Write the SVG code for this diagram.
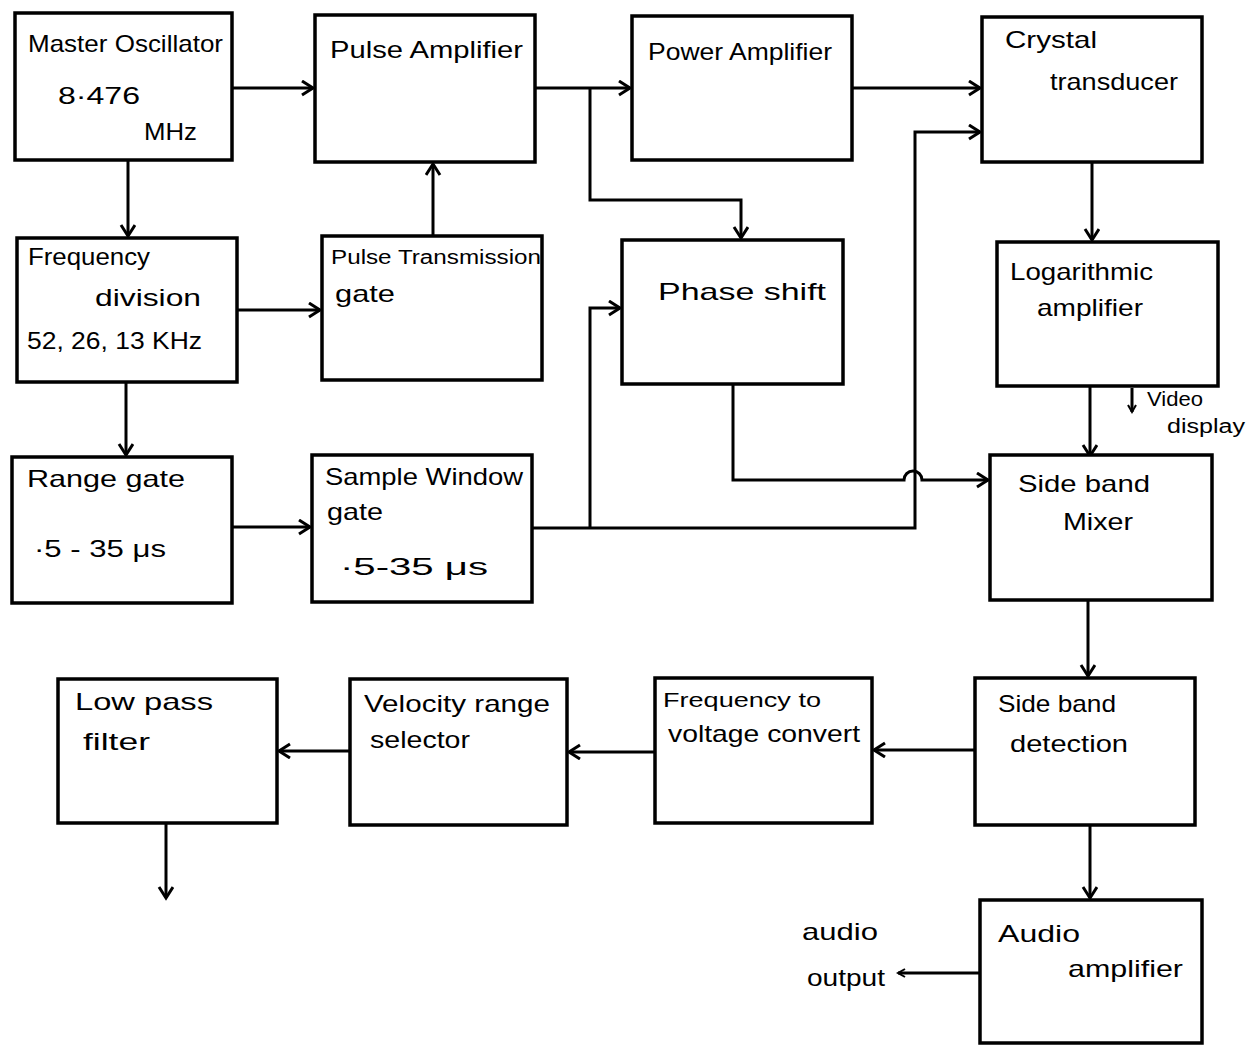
<svg xmlns="http://www.w3.org/2000/svg" width="1253" height="1050" viewBox="0 0 1253 1050">
<defs>
<marker id="arr" markerUnits="userSpaceOnUse" markerWidth="20" markerHeight="20" refX="13" refY="8" orient="auto">
<path d="M2,1 L13,8 L2,15" fill="none" stroke="#000" stroke-width="3"/>
</marker>
<marker id="arrs" markerUnits="userSpaceOnUse" markerWidth="12" markerHeight="12" refX="8" refY="5" orient="auto">
<path d="M1,1 L8,5 L1,9" fill="none" stroke="#000" stroke-width="2"/>
</marker>
</defs>
<style>
.box{fill:#fff;stroke:#000;stroke-width:3.5}
.t{font-family:"Liberation Sans","DejaVu Sans",sans-serif;font-size:24px;fill:#000}
.s{font-size:20px}
.c{fill:none;stroke:#000;stroke-width:3;stroke-linejoin:miter}
</style>
<rect width="1253" height="1050" fill="#fff"/>
<g id="connectors">
<path class="c" d="M232,88 H313" marker-end="url(#arr)"/>
<path class="c" d="M535,88 H630" marker-end="url(#arr)"/>
<path class="c" d="M590,88 V200 H741 V238" marker-end="url(#arr)"/>
<path class="c" d="M852,88 H980" marker-end="url(#arr)"/>
<path class="c" d="M128,160 V236" marker-end="url(#arr)"/>
<path class="c" d="M237,310 H320" marker-end="url(#arr)"/>
<path class="c" d="M433,236 V164" marker-end="url(#arr)"/>
<path class="c" d="M126,382 V455" marker-end="url(#arr)"/>
<path class="c" d="M232,527 H310" marker-end="url(#arr)"/>
<path class="c" d="M532,528 H915 V132 H980" marker-end="url(#arr)"/>
<path class="c" d="M590,528 V308 H620" marker-end="url(#arr)"/>
<path class="c" d="M733,384 V480 H904 a9,9 0 0 1 18,0 H988" marker-end="url(#arr)"/>
<path class="c" d="M1092,162 V240" marker-end="url(#arr)"/>
<path class="c" d="M1090,386 V456" marker-end="url(#arr)"/>
<path class="c" d="M1132,388 V412" marker-end="url(#arrs)"/>
<path class="c" d="M1088,600 V676" marker-end="url(#arr)"/>
<path class="c" d="M975,750 H874" marker-end="url(#arr)"/>
<path class="c" d="M655,752 H569" marker-end="url(#arr)"/>
<path class="c" d="M350,751 H279" marker-end="url(#arr)"/>
<path class="c" d="M166,823 V898" marker-end="url(#arr)"/>
<path class="c" d="M1090,825 V898" marker-end="url(#arr)"/>
<path class="c" d="M980,973 H898" marker-end="url(#arrs)"/>
</g>
<g id="master-oscillator">
<rect class="box" x="15" y="13" width="217" height="147"/>
<text class="t" x="28" y="52" textLength="195" lengthAdjust="spacingAndGlyphs">Master Oscillator</text>
<text class="t" x="58" y="104" textLength="82" lengthAdjust="spacingAndGlyphs">8·476</text>
<text class="t" x="144" y="140" textLength="53" lengthAdjust="spacingAndGlyphs">MHz</text>
</g>
<g id="pulse-amplifier">
<rect class="box" x="315" y="15" width="220" height="147"/>
<text class="t" x="330" y="58" textLength="193" lengthAdjust="spacingAndGlyphs">Pulse Amplifier</text>
</g>
<g id="power-amplifier">
<rect class="box" x="632" y="16" width="220" height="144"/>
<text class="t" x="648" y="60" textLength="184" lengthAdjust="spacingAndGlyphs">Power Amplifier</text>
</g>
<g id="crystal-transducer">
<rect class="box" x="982" y="17" width="220" height="145"/>
<text class="t" x="1005" y="48" textLength="92" lengthAdjust="spacingAndGlyphs">Crystal</text>
<text class="t" x="1050" y="90" textLength="128" lengthAdjust="spacingAndGlyphs">transducer</text>
</g>
<g id="frequency-division">
<rect class="box" x="17" y="238" width="220" height="144"/>
<text class="t" x="28" y="265" textLength="122" lengthAdjust="spacingAndGlyphs">Frequency</text>
<text class="t" x="95" y="306" textLength="106" lengthAdjust="spacingAndGlyphs">division</text>
<text class="t" x="27" y="349" textLength="175" lengthAdjust="spacingAndGlyphs">52, 26, 13 KHz</text>
</g>
<g id="pulse-transmission-gate">
<rect class="box" x="322" y="236" width="220" height="144"/>
<text class="t s" x="331" y="264" textLength="210" lengthAdjust="spacingAndGlyphs">Pulse Transmission</text>
<text class="t" x="335" y="302" textLength="60" lengthAdjust="spacingAndGlyphs">gate</text>
</g>
<g id="phase-shift">
<rect class="box" x="622" y="240" width="221" height="144"/>
<text class="t" x="658" y="300" textLength="168" lengthAdjust="spacingAndGlyphs">Phase shift</text>
</g>
<g id="logarithmic-amplifier">
<rect class="box" x="997" y="242" width="221" height="144"/>
<text class="t" x="1010" y="280" textLength="143" lengthAdjust="spacingAndGlyphs">Logarithmic</text>
<text class="t" x="1037" y="316" textLength="106" lengthAdjust="spacingAndGlyphs">amplifier</text>
</g>
<g id="video-display">
<text class="t s" x="1147" y="406" textLength="56" lengthAdjust="spacingAndGlyphs">Video</text>
<text class="t s" x="1167" y="433" textLength="78" lengthAdjust="spacingAndGlyphs">display</text>
</g>
<g id="range-gate">
<rect class="box" x="12" y="457" width="220" height="146"/>
<text class="t" x="27" y="487" textLength="158" lengthAdjust="spacingAndGlyphs">Range gate</text>
<text class="t" x="34" y="557" textLength="132" lengthAdjust="spacingAndGlyphs">·5 - 35 μs</text>
</g>
<g id="sample-window-gate">
<rect class="box" x="312" y="455" width="220" height="147"/>
<text class="t" x="325" y="485" textLength="198" lengthAdjust="spacingAndGlyphs">Sample Window</text>
<text class="t" x="327" y="520" textLength="56" lengthAdjust="spacingAndGlyphs">gate</text>
<text class="t" x="340" y="575" textLength="148" lengthAdjust="spacingAndGlyphs">·5-35 μs</text>
</g>
<g id="side-band-mixer">
<rect class="box" x="990" y="455" width="222" height="145"/>
<text class="t" x="1018" y="492" textLength="132" lengthAdjust="spacingAndGlyphs">Side band</text>
<text class="t" x="1063" y="530" textLength="70" lengthAdjust="spacingAndGlyphs">Mixer</text>
</g>
<g id="low-pass-filter">
<rect class="box" x="58" y="679" width="219" height="144"/>
<text class="t" x="75" y="710" textLength="138" lengthAdjust="spacingAndGlyphs">Low pass</text>
<text class="t" x="83" y="750" textLength="67" lengthAdjust="spacingAndGlyphs">filter</text>
</g>
<g id="velocity-range-selector">
<rect class="box" x="350" y="679" width="217" height="146"/>
<text class="t" x="364" y="712" textLength="186" lengthAdjust="spacingAndGlyphs">Velocity range</text>
<text class="t" x="370" y="748" textLength="100" lengthAdjust="spacingAndGlyphs">selector</text>
</g>
<g id="frequency-to-voltage">
<rect class="box" x="655" y="678" width="217" height="145"/>
<text class="t s" x="663" y="707" textLength="158" lengthAdjust="spacingAndGlyphs">Frequency to</text>
<text class="t" x="668" y="742" textLength="192" lengthAdjust="spacingAndGlyphs">voltage convert</text>
</g>
<g id="side-band-detection">
<rect class="box" x="975" y="678" width="220" height="147"/>
<text class="t" x="998" y="712" textLength="118" lengthAdjust="spacingAndGlyphs">Side band</text>
<text class="t" x="1010" y="752" textLength="118" lengthAdjust="spacingAndGlyphs">detection</text>
</g>
<g id="audio-amplifier">
<rect class="box" x="980" y="900" width="222" height="143"/>
<text class="t" x="998" y="942" textLength="82" lengthAdjust="spacingAndGlyphs">Audio</text>
<text class="t" x="1068" y="977" textLength="115" lengthAdjust="spacingAndGlyphs">amplifier</text>
</g>
<g id="audio-output">
<text class="t" x="802" y="940" textLength="76" lengthAdjust="spacingAndGlyphs">audio</text>
<text class="t" x="807" y="986" textLength="78" lengthAdjust="spacingAndGlyphs">output</text>
</g>
</svg>
